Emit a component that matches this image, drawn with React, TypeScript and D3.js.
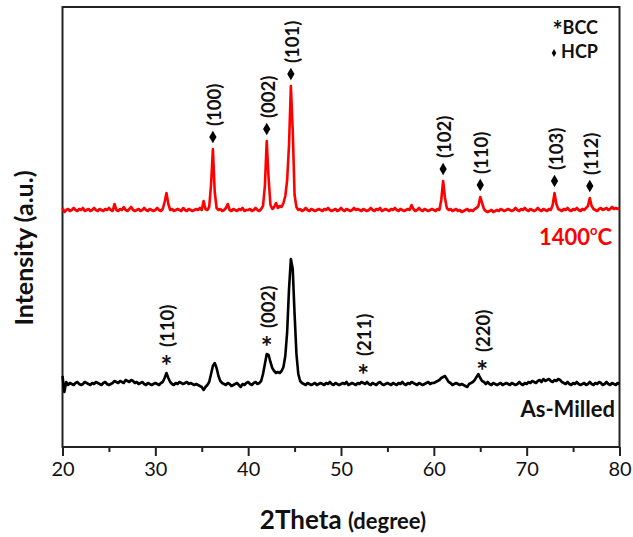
import React, { useEffect, useRef } from 'react';
import * as d3 from 'd3';

// XRD patterns sampled every 0.2 deg from 20 to 80 (a.u., baseline ~10)
const startAngle = 20;
const stepAngle = 0.2;

const heatTreated = [
  12, 8, 10, 11, 9, 10, 12, 10, 9, 11, 10, 12, 9, 10, 11, 9, 10, 12, 10, 9,
  11, 10, 9, 11, 10, 12, 10, 9, 16, 10, 9, 11, 10, 13, 10, 9, 11, 13, 10, 9,
  10, 11, 9, 10, 12, 10, 9, 11, 10, 9, 10, 12, 10, 9, 11, 18, 27, 16, 10, 11,
  9, 10, 11, 10, 9, 12, 10, 9, 11, 10, 9, 10, 11, 10, 12, 10, 19, 11, 10, 13,
  35, 71, 28, 12, 10, 11, 9, 10, 12, 16, 10, 9, 11, 10, 9, 11, 10, 12, 9, 10,
  10, 11, 9, 10, 12, 10, 9, 11, 14, 34, 79, 42, 15, 11, 13, 17, 12, 14, 13, 17,
  24, 40, 75, 134, 90, 25, 13, 10, 11, 9, 10, 12, 10, 9, 11, 10, 9, 10, 11, 10,
  9, 11, 10, 12, 10, 9, 10, 11, 9, 10, 12, 10, 9, 11, 10, 9, 10, 12, 10, 11,
  10, 9, 11, 10, 9, 10, 12, 10, 9, 11, 10, 12, 9, 10, 11, 10, 9, 11, 10, 12,
  10, 9, 11, 10, 9, 10, 11, 10, 15, 11, 9, 10, 12, 10, 9, 11, 10, 9, 10, 11,
  10, 9, 11, 10, 20, 39, 22, 12, 10, 11, 9, 10, 11, 9, 10, 8, 9, 10, 11, 9,
  10, 9, 11, 12, 14, 23, 17, 11, 9, 8, 9, 10, 8, 9, 10, 9, 11, 10, 9, 10,
  11, 10, 9, 10, 12, 10, 9, 11, 10, 12, 10, 9, 11, 10, 9, 10, 12, 10, 9, 11,
  10, 9, 11, 10, 15, 27, 16, 11, 10, 9, 11, 10, 12, 10, 9, 11, 10, 12, 10, 9,
  11, 10, 12, 14, 22, 14, 11, 10, 9, 11, 12, 10, 11, 12, 10, 11, 13, 11, 12, 11,
  12,
];

const asMilled = [
  18, 2, 12, 9, 11, 10, 9, 11, 12, 10, 9, 10, 12, 11, 10, 9, 11, 10, 12, 11,
  10, 9, 11, 12, 10, 9, 10, 11, 13, 12, 11, 13, 12, 11, 14, 13, 12, 14, 13, 11,
  12, 10, 11, 12, 10, 9, 11, 10, 9, 10, 11, 10, 9, 11, 12, 16, 21, 16, 12, 10,
  9, 11, 10, 12, 11, 10, 11, 12, 10, 11, 10, 9, 10, 9, 8, 7, 4, 7, 9, 12,
  20, 28, 31, 26, 18, 13, 11, 10, 9, 11, 10, 8, 9, 10, 11, 9, 7, 10, 9, 11,
  12, 10, 9, 11, 12, 10, 11, 13, 20, 30, 40, 39, 32, 26, 23, 21, 22, 21, 23, 27,
  38, 62, 105, 135, 125, 80, 40, 20, 13, 11, 10, 9, 11, 10, 9, 10, 11, 9, 10, 11,
  10, 9, 11, 10, 12, 10, 9, 11, 10, 9, 10, 11, 10, 12, 9, 10, 11, 10, 9, 11,
  10, 12, 11, 10, 12, 10, 9, 11, 10, 9, 11, 12, 10, 9, 10, 11, 10, 9, 11, 10,
  9, 11, 10, 12, 10, 9, 11, 10, 12, 11, 10, 9, 11, 10, 9, 10, 11, 12, 10, 11,
  11, 12, 13, 14, 16, 17, 18, 15, 12, 11, 9, 10, 11, 10, 9, 10, 9, 8, 7, 10,
  11, 12, 14, 17, 20, 16, 13, 12, 10, 12, 10, 9, 11, 10, 9, 10, 11, 9, 10, 11,
  10, 9, 11, 10, 9, 10, 12, 10, 9, 11, 10, 12, 11, 13, 12, 11, 13, 14, 12, 15,
  13, 14, 15, 13, 12, 14, 13, 15, 14, 12, 11, 10, 12, 10, 9, 11, 10, 12, 10, 9,
  10, 11, 9, 10, 12, 10, 9, 11, 10, 12, 11, 9, 10, 12, 10, 9, 11, 10, 9, 11,
  10,
];

// vertical offsets used to stack the two patterns
const heatTreatedShift = 227;
const asMilledShift = 53;

const hcpPositions = [36.2, 42.0, 44.6, 61.0, 65.0, 73.0, 76.8];
const hcpLabels = ['(100)', '(002)', '(101)', '(102)', '(110)', '(103)', '(112)'];
const bccPositions = [31.2, 42.0, 52.4, 65.2];
const bccLabels = ['(110)', '(002)', '(211)', '(220)'];

const xTicks = [20, 30, 40, 50, 60, 70, 80];
const xMinorTicks = [25, 35, 45, 55, 65, 75];

const width = 633;
const height = 537;
const margin = { top: 7, right: 13.5, bottom: 90, left: 62.5 };
const font = 'Lato, "Open Sans", sans-serif';

const toPoints = (vals: number[], shift: number) =>
  vals.map((v, i) => ({ angle: startAngle + i * stepAngle, value: v + shift }));

export default function App() {
  const axisRef = useRef<SVGGElement>(null);
  const innerW = width - margin.left - margin.right;
  const innerH = height - margin.top - margin.bottom;

  const x = d3.scaleLinear().domain([20, 80]).range([margin.left, margin.left + innerW]);
  const y = d3.scaleLinear().domain([0, innerH]).range([margin.top + innerH, margin.top]);

  const redPts = toPoints(heatTreated, heatTreatedShift);
  const blackPts = toPoints(asMilled, asMilledShift);

  const line = d3
    .line<{ angle: number; value: number }>()
    .x(d => x(d.angle))
    .y(d => y(d.value));

  const peakTop = (pts: { angle: number; value: number }[], pos: number) =>
    y(d3.max(pts.filter(p => Math.abs(p.angle - pos) <= 0.35), p => p.value) as number);

  useEffect(() => {
    const g = d3.select(axisRef.current);
    g.selectAll('*').remove();
    const major = g
      .append('g')
      .call(d3.axisBottom(x).tickValues(xTicks).tickSize(9).tickSizeOuter(0).tickPadding(6));
    major.select('.domain').remove();
    major.selectAll('line').attr('stroke', '#222').attr('stroke-width', 2);
    major
      .selectAll('text')
      .attr('font-family', font)
      .attr('font-size', 20)
      .attr('fill', '#111');
    const minor = g
      .append('g')
      .call(d3.axisBottom(x).tickValues(xMinorTicks).tickSize(5).tickFormat(() => ''));
    minor.select('.domain').remove();
    minor.selectAll('line').attr('stroke', '#222').attr('stroke-width', 2);
  }, []);

  const diamond = d3.symbol().type(d3.symbolDiamond).size(46)();
  const smallDiamond = d3.symbol().type(d3.symbolDiamond).size(18)();

  return (
    <svg
      width={width}
      height={height}
      style={{ position: 'absolute', left: 0, top: 0, background: '#fff' }}
    >
      <g ref={axisRef} transform={`translate(0,${margin.top + innerH})`} />
      <rect
        x={margin.left}
        y={margin.top}
        width={innerW}
        height={innerH}
        fill="none"
        stroke="#222"
        strokeWidth={2}
      />
      <path d={line(redPts) || ''} fill="none" stroke="#ff0000" strokeWidth={2.6} strokeLinejoin="round" />
      <path d={line(blackPts) || ''} fill="none" stroke="#000" strokeWidth={2.6} strokeLinejoin="round" />

      {hcpPositions.map((pos, i) => {
        const top = peakTop(redPts, pos);
        return (
          <g key={'h' + i}>
            <path d={diamond || ''} transform={`translate(${x(pos)},${top - 12})`} fill="#000" />
            <text
              transform={`translate(${x(pos) + 1},${top - 23}) rotate(-90)`}
              dominantBaseline="central"
              fontFamily={font}
              fontWeight="bold"
              fontSize={18.5}
              fill="#111"
            >
              {hcpLabels[i]}
            </text>
          </g>
        );
      })}

      {bccPositions.map((pos, i) => {
        const top = peakTop(blackPts, pos);
        return (
          <g key={'b' + i}>
            <text
              x={x(pos)}
              y={top + 3}
              textAnchor="middle"
              fontFamily={font}
              fontWeight="bold"
              fontSize={28}
              fill="#111"
            >
              *
            </text>
            <text
              transform={`translate(${x(pos) + 1},${top - 26}) rotate(-90)`}
              dominantBaseline="central"
              fontFamily={font}
              fontWeight="bold"
              fontSize={18.5}
              fill="#111"
            >
              {bccLabels[i]}
            </text>
          </g>
        );
      })}

      <text x={598} y={34} textAnchor="end" fontFamily={font} fontWeight="bold" fontSize={18} fill="#111">
        <tspan fontSize={24} dy={5}>*</tspan>
        <tspan dy={-5}>BCC</tspan>
      </text>
      <path d={smallDiamond || ''} transform="translate(554,53)" fill="#000" />
      <text x={598} y={58} textAnchor="end" fontFamily={font} fontWeight="bold" fontSize={18} fill="#111">
        HCP
      </text>

      <text x={612} y={245} textAnchor="end" fontFamily={font} fontWeight="bold" fontSize={22} fill="#ff0000">
        1400
        <tspan fontSize={13} dy={-10}>o</tspan>
        <tspan dy={10}>C</tspan>
      </text>
      <text x={615} y={417} textAnchor="end" fontFamily={font} fontWeight="bold" fontSize={22} fill="#111">
        As-Milled
      </text>

      <text
        transform={`translate(23,248) rotate(-90)`}
        textAnchor="middle"
        dominantBaseline="central"
        fontFamily={font}
        fontWeight="bold"
        fontSize={25}
        fill="#111"
      >
        Intensity (a.u.)
      </text>
      <text x={343} y={529} textAnchor="middle" fontFamily={font} fontWeight="bold" fill="#111">
        <tspan fontSize={26}>2Theta </tspan>
        <tspan fontSize={22}>(degree)</tspan>
      </text>
    </svg>
  );
}
